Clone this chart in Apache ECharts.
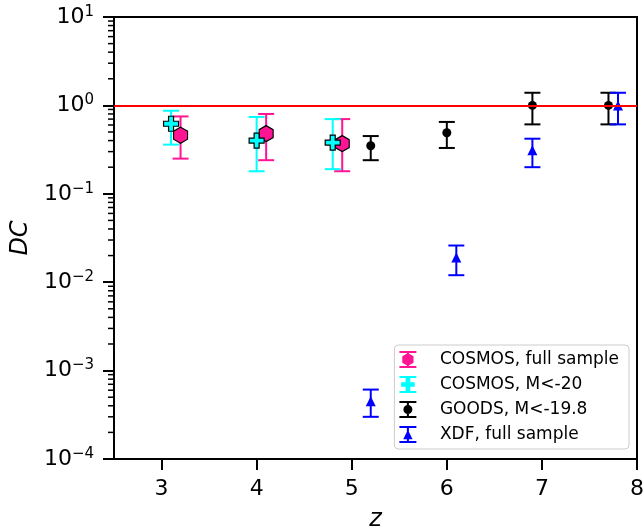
<!DOCTYPE html>
<html>
<head>
<meta charset="utf-8">
<script src="https://cdn.jsdelivr.net/npm/echarts@6/dist/echarts.min.js"></script>
<style>
  html, body { margin: 0; padding: 0; background: #fff; }
  #chart { width: 643px; height: 526px; }
</style>
</head>
<body>
<div id="chart"></div>
<script>
// values
const cosmosFullZ = [3.2, 4.1, 4.9];
const cosmosFullDC = [0.46, 0.48, 0.37];
const cosmosFullLo = [0.25, 0.24, 0.18];
const cosmosFullHi = [0.75, 0.80, 0.70];

const cosmosM20Z = [3.1, 4.0, 4.8];
const cosmosM20DC = [0.62, 0.40, 0.38];
const cosmosM20Lo = [0.36, 0.18, 0.19];
const cosmosM20Hi = [0.87, 0.74, 0.70];

const goodsZ = [5.2, 6.0, 6.9, 7.7];
const goodsDC = [0.35, 0.49, 1.0, 1.0];
const goodsLo = [0.24, 0.33, 0.61, 0.61];
const goodsHi = [0.45, 0.65, 1.39, 1.39];

const xdfZ = [5.2, 6.1, 6.9, 7.8];
const xdfDC = [4.5e-4, 0.019, 0.31, 1.0];
const xdfLo = [3.0e-4, 0.012, 0.20, 0.61];
const xdfHi = [6.1e-4, 0.026, 0.42, 1.39];

const unityLevel = 1;

const xTicks = [3, 4, 5, 6, 7, 8];
const yTicks = [1e-4, 1e-3, 1e-2, 1e-1, 1, 10];
const minorSteps = [2, 3, 4, 5, 6, 7, 8, 9];

const X_MIN = 2.5;
const X_MAX = 8;
const FONT = "DejaVu Sans";

// marker shapes
const HEXAGON = "path://M10 0 L18.66 5 L18.66 15 L10 20 L1.34 15 L1.34 5 Z";
const PLUS = "path://M6.67 0 H13.33 V6.67 H20 V13.33 H13.33 V20 H6.67 V13.33 H0 V6.67 H6.67 Z";

// legend icons: error bar + marker
const BAR = "M0 0 H20 V2.4 H0 Z M8.8 0 H11.2 V20 H8.8 Z M0 17.6 H20 V20 H0 Z ";
const ICON_HEX = "path://" + BAR + "M10 2.35 L16.6 6.2 L16.6 13.8 L10 17.65 L3.4 13.8 L3.4 6.2 Z";
const ICON_PLUS = "path://" + BAR + "M7.25 2 H12.75 V7.25 H18 V12.75 H12.75 V18 H7.25 V12.75 H2 V7.25 H7.25 Z";
const ICON_DOT = "path://" + BAR + "M10 4.7 A5.3 5.3 0 1 1 9.99 4.7 Z";
const ICON_TRI = "path://" + BAR + "M10 4.5 L15.5 15.5 L4.5 15.5 Z";

function zip(z, a, b) {
  return z.map((v, i) => (b ? [v, a[i], b[i]] : [v, a[i]]));
}

function errorBars(name, color, z, lo, hi) {
  return {
    name: name,
    type: "custom",
    data: zip(z, lo, hi),
    encode: { x: 0, y: [1, 2] },
    itemStyle: { color: color },
    silent: true,
    renderItem: (params, api) => {
      const x = api.value(0);
      const pLo = api.coord([x, api.value(1)]);
      const pHi = api.coord([x, api.value(2)]);
      const cap = 8;
      const style = { stroke: color, lineWidth: 2 };
      return {
        type: "group",
        children: [
          { type: "line", shape: { x1: pLo[0], y1: pLo[1], x2: pHi[0], y2: pHi[1] }, style: style },
          { type: "line", shape: { x1: pLo[0] - cap, y1: pLo[1], x2: pLo[0] + cap, y2: pLo[1] }, style: style },
          { type: "line", shape: { x1: pHi[0] - cap, y1: pHi[1], x2: pHi[0] + cap, y2: pHi[1] }, style: style },
        ],
      };
    },
  };
}

function markers(name, color, z, dc, symbol, size, edge) {
  return {
    name: name,
    type: "scatter",
    data: zip(z, dc),
    symbol: symbol,
    symbolSize: size,
    itemStyle: {
      color: color,
      opacity: 1,
      borderColor: "#000",
      borderWidth: edge,
    },
    emphasis: { disabled: true },
  };
}

const minorTicks = [];
yTicks.slice(0, -1).forEach((d) => {
  minorSteps.forEach((k) => minorTicks.push([X_MIN, d * k]));
});

function supLabel(v) {
  const e = Math.round(Math.log10(v));
  const s = e < 0 ? "\u2212" + -e : String(e);
  return "{b|10}{s|" + s + "}";
}

const chart = echarts.init(document.getElementById("chart"));

chart.setOption({
  animation: false,
  backgroundColor: "#fff",
  grid: {
    left: 114,
    right: 6,
    top: 17,
    bottom: 67,
    outerBoundsMode: "none",
    show: true,
    borderColor: "#000",
    borderWidth: 2,
    backgroundColor: "transparent",
  },
  legend: {
    orient: "vertical",
    right: 14,
    top: 345,
    padding: [6, 10, 6, 5],
    itemWidth: 38,
    itemHeight: 17,
    itemGap: 8,
    backgroundColor: "rgba(255,255,255,0.8)",
    borderColor: "#cccccc",
    borderWidth: 1,
    borderRadius: 4,
    selectedMode: false,
    textStyle: {
      fontFamily: FONT,
      fontSize: 17,
      color: "#000",
      padding: [0, 0, 0, 8],
    },
    data: [
      { name: "COSMOS, full sample", icon: ICON_HEX, itemStyle: { color: "#ff1493", borderWidth: 0 } },
      { name: "COSMOS, M<-20", icon: ICON_PLUS, itemStyle: { color: "#00ffff", borderWidth: 0 } },
      { name: "GOODS, M<-19.8", icon: ICON_DOT, itemStyle: { color: "#000000", borderWidth: 0 } },
      { name: "XDF, full sample", icon: ICON_TRI, itemStyle: { color: "#0000ff", borderWidth: 0 } },
    ],
  },
  xAxis: {
    type: "value",
    min: X_MIN,
    max: X_MAX,
    name: "z",
    nameLocation: "middle",
    nameGap: 49,
    nameTextStyle: { fontFamily: FONT, fontSize: 24, fontStyle: "italic", color: "#000" },
    axisLine: { show: true, lineStyle: { color: "#000", width: 2 } },
    axisTick: { show: true, length: 11, customValues: xTicks, lineStyle: { color: "#000", width: 2 } },
    axisLabel: {
      customValues: xTicks,
      margin: 19,
      fontFamily: FONT,
      fontSize: 22,
      color: "#000",
    },
    splitLine: { show: false },
  },
  yAxis: {
    type: "log",
    logBase: 10,
    min: yTicks[0],
    max: yTicks[yTicks.length - 1],
    splitNumber: 5,
    name: "DC",
    nameLocation: "middle",
    nameGap: 80,
    nameTextStyle: { fontFamily: FONT, fontSize: 24, fontStyle: "italic", color: "#000" },
    axisLine: { show: true, lineStyle: { color: "#000", width: 2 } },
    axisTick: { show: true, length: 11, lineStyle: { color: "#000", width: 2 } },
    axisLabel: {
      margin: 20,
      formatter: supLabel,
      rich: {
        b: { fontFamily: FONT, fontSize: 22, color: "#000", lineHeight: 25 },
        s: { fontFamily: FONT, fontSize: 15, color: "#000", lineHeight: 15, verticalAlign: "top" },
      },
    },
    splitLine: { show: false },
  },
  series: [
    {
      name: "minor ticks",
      type: "custom",
      data: minorTicks,
      encode: { x: 0, y: 1 },
      silent: true,
      clip: false,
      renderItem: (params, api) => {
        const p = api.coord([api.value(0), api.value(1)]);
        return {
          type: "line",
          shape: { x1: p[0] - 6, y1: p[1], x2: p[0], y2: p[1] },
          style: { stroke: "#000", lineWidth: 1.5 },
        };
      },
    },
    {
      name: "unity",
      type: "line",
      data: [],
      silent: true,
      markLine: {
        silent: true,
        symbol: ["none", "none"],
        label: { show: false },
        emphasis: { disabled: true },
        lineStyle: { color: "#ff0000", width: 2, type: "solid" },
        data: [{ yAxis: unityLevel }],
      },
    },
    errorBars("COSMOS, full sample", "#ff1493", cosmosFullZ, cosmosFullLo, cosmosFullHi),
    markers("COSMOS, full sample", "#ff1493", cosmosFullZ, cosmosFullDC, HEXAGON, [14, 16], 1.2),
    errorBars("COSMOS, M<-20", "#00ffff", cosmosM20Z, cosmosM20Lo, cosmosM20Hi),
    markers("COSMOS, M<-20", "#00ffff", cosmosM20Z, cosmosM20DC, PLUS, 15, 1.2),
    errorBars("GOODS, M<-19.8", "#000000", goodsZ, goodsLo, goodsHi),
    markers("GOODS, M<-19.8", "#000000", goodsZ, goodsDC, "circle", 9, 0),
    errorBars("XDF, full sample", "#0000ff", xdfZ, xdfLo, xdfHi),
    markers("XDF, full sample", "#0000ff", xdfZ, xdfDC, "triangle", [10, 10], 0),
  ],
});
</script>
</body>
</html>
